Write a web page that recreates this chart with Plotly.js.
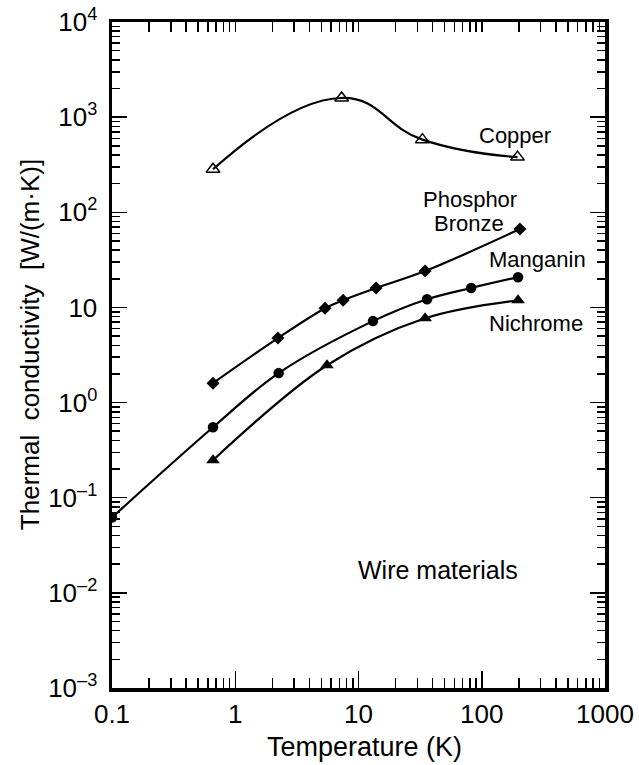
<!DOCTYPE html>
<html>
<head>
<meta charset="utf-8">
<script src="https://cdn.plot.ly/plotly-3.0.1.min.js"></script>
<style>html,body{margin:0;padding:0;background:#fff;}#chart{width:639px;height:765px;}</style>
</head>
<body>
<div id="chart"></div>
<script>
// Data (Temperature in K, conductivity in W/(m·K))
var copperT = [0.66, 7.3, 33, 195];
var copperK = [283, 1590, 580, 380];

var bronzeT = [0.66, 2.22, 5.35, 7.5, 13.9, 34.7, 204];
var bronzeK = [1.6, 4.76, 9.8, 11.9, 16.0, 24.1, 66.6];

var manganinT = [0.1, 0.66, 2.25, 13.1, 36, 82, 197];
var manganinK = [0.062, 0.55, 2.04, 7.18, 12.2, 16.0, 20.8];

var nichromeT = [0.66, 5.55, 34.7, 197];
var nichromeK = [0.248, 2.47, 7.7, 11.9];

var xTickVals = [0.1, 1, 10, 100, 1000];
var xTickText = ['0.1', '1', '10', '100', '1000'];
var yTickVals = [1e-3, 1e-2, 1e-1, 1, 10, 100, 1000, 10000];
var yTickText = ['10<sup>–3</sup>', '10<sup>–2</sup>', '10<sup>–1</sup>', '10<sup>0</sup>', '10', '10<sup>2</sup>', '10<sup>3</sup>', '10<sup>4</sup>'];

var seriesLabels = ['Copper', 'Phosphor', 'Bronze', 'Manganin', 'Nichrome', 'Wire materials'];
var xTitle = 'Temperature (K)';
var yTitle = 'Thermal  conductivity  [W/(m·K)]';

function minorVals(lo, hi) {
  var v = [];
  for (var e = lo; e < hi; e++) {
    for (var m = 2; m <= 9; m++) v.push(m * Math.pow(10, e));
  }
  return v;
}
function allVals(lo, hi) {
  var v = [];
  for (var e = lo; e < hi; e++) {
    for (var m = 1; m <= 9; m++) v.push(m * Math.pow(10, e));
  }
  return v.filter(function (x) { return x > Math.pow(10, lo) * 1.01; });
}

function lineStyle(s) { return {color: '#000', width: 2.2, shape: 'spline', smoothing: s}; }

var traces = [
  {x: copperT, y: copperK, mode: 'lines+markers', line: lineStyle(1.3),
   marker: {symbol: 'triangle-up-open', size: 12, color: '#000', line: {width: 1.5, color: '#000'}}},
  {x: bronzeT, y: bronzeK, mode: 'lines+markers', line: lineStyle(1),
   marker: {symbol: 'diamond', size: 10, color: '#000'}},
  {x: manganinT, y: manganinK, mode: 'lines+markers', line: lineStyle(1),
   marker: {symbol: 'circle', size: 10.5, color: '#000'}},
  {x: nichromeT, y: nichromeK, mode: 'lines+markers', line: lineStyle(1),
   marker: {symbol: 'triangle-up', size: 12, color: '#000'}},
  {x: [1], y: [1], xaxis: 'x2', mode: 'markers', marker: {opacity: 0}, hoverinfo: 'skip'}
];

var fam = 'Liberation Sans, Arial, Helvetica, sans-serif';

function ann(text, x, y, size, angle) {
  return {text: text, xref: 'paper', yref: 'paper', x: x, y: y, xanchor: 'center', yanchor: 'middle',
          textangle: angle || 0, showarrow: false, font: {family: fam, color: '#000', size: size}};
}

var layout = {
  width: 639, height: 765,
  margin: {l: 112, r: 34, t: 22, b: 77},
  paper_bgcolor: '#fff', plot_bgcolor: '#fff',
  showlegend: false,
  font: {family: fam, color: '#000'},
  xaxis: {
    type: 'log', range: [-1, 3],
    tickmode: 'array', tickvals: xTickVals, ticktext: xTickText,
    ticks: 'inside', ticklen: 17, tickwidth: 1.5, tickcolor: '#000',
    minor: {tickmode: 'array', tickvals: minorVals(-1, 3), ticks: 'inside', ticklen: 10, tickwidth: 1.5, tickcolor: '#000'},
    showline: true, linewidth: 3.5, linecolor: '#000', mirror: true,
    showgrid: false, zeroline: false,
    tickfont: {size: 26, family: fam, color: '#000'},
    ticklabelstandoff: 0
  },
  xaxis2: {
    type: 'log', range: [-1, 3], overlaying: 'x', side: 'top', anchor: 'y',
    tickmode: 'array', tickvals: allVals(-1, 3),
    ticks: 'inside', ticklen: 10, tickwidth: 1.5, tickcolor: '#000',
    showticklabels: false, showline: false, showgrid: false, zeroline: false
  },
  yaxis: {
    type: 'log', range: [-3, 4],
    tickmode: 'array', tickvals: yTickVals, ticktext: yTickText,
    ticks: 'inside', ticklen: 15, tickwidth: 1.5, tickcolor: '#000',
    minor: {tickmode: 'array', tickvals: minorVals(-3, 4), ticks: 'inside', ticklen: 8, tickwidth: 1.5, tickcolor: '#000'},
    showline: true, linewidth: 3.5, linecolor: '#000', mirror: 'ticks',
    showgrid: false, zeroline: false,
    tickfont: {size: 26, family: fam, color: '#000'},
    ticklabelstandoff: 6
  },
  annotations: [
    ann(seriesLabels[0], 0.817, 0.830, 22),
    ann(seriesLabels[1], 0.726, 0.733, 22),
    ann(seriesLabels[2], 0.724, 0.698, 22),
    ann(seriesLabels[3], 0.863, 0.643, 22),
    ann(seriesLabels[4], 0.860, 0.548, 22),
    ann(seriesLabels[5], 0.661, 0.177, 25),
    ann(xTitle, 0.513, -0.089, 27),
    ann(yTitle, -0.166, 0.515, 26, -90)
  ]
};

Plotly.newPlot('chart', traces, layout, {staticPlot: true, displayModeBar: false});
</script>
</body>
</html>
